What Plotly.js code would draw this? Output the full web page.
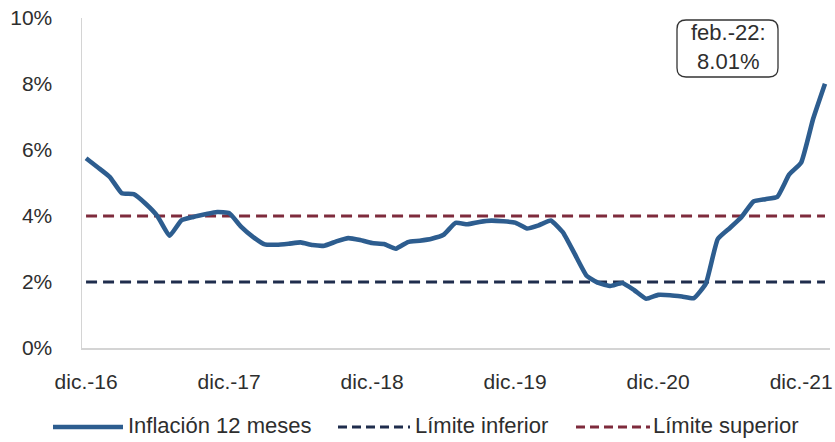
<!DOCTYPE html>
<html>
<head>
<meta charset="utf-8">
<script src="https://cdn.plot.ly/plotly-3.0.1.min.js"></script>
<style>html,body{margin:0;padding:0;background:#fff;}#chart{width:835px;height:442px;}</style>
</head>
<body>
<div id="chart"></div>
<script>
// Month labels (dic.-16 ... feb.-22)
var monthNames = ["ene.","feb.","mar.","abr.","may.","jun.","jul.","ago.","sep.","oct.","nov.","dic."];
var months = ["dic.-16"];
for (var y = 17; y <= 22; y++) {
  for (var m = 0; m < 12; m++) {
    if (y === 22 && m > 1) break;
    months.push(monthNames[m] + "-" + y);
  }
}
// 12-month inflation (%)
var inflacion = [
  5.75,
  5.47, 5.18, 4.69, 4.66, 4.37, 3.99, 3.40, 3.87, 3.97, 4.05, 4.12, 4.09,
  3.68, 3.37, 3.14, 3.13, 3.16, 3.20, 3.12, 3.10, 3.23, 3.33, 3.27, 3.18,
  3.15, 3.01, 3.21, 3.25, 3.31, 3.43, 3.79, 3.75, 3.82, 3.86, 3.84, 3.80,
  3.62, 3.72, 3.86, 3.51, 2.85, 2.19, 1.97, 1.88, 1.97, 1.75, 1.49, 1.61,
  1.60, 1.56, 1.51, 1.95, 3.30, 3.63, 3.97, 4.44, 4.51, 4.58, 5.26, 5.62,
  6.94, 8.01
];
var limInferiorValue = 2;
var limSuperiorValue = 4;
var limInferior = months.map(function(){ return limInferiorValue; });
var limSuperior = months.map(function(){ return limSuperiorValue; });
var tickLabels = ["dic.-16","dic.-17","dic.-18","dic.-19","dic.-20","dic.-21"];
var yTicks = [0, 2, 4, 6, 8, 10];
var seriesNames = ["Inflación 12 meses", "Límite inferior", "Límite superior"];
var lastLabel = "feb.-22:<br>8.01%";

var colBlue = "#2d5d8f", colNavy = "#1f2d4d", colRed = "#7e2b3c";
var textCol = "#2e2e2e";
var FONT = "Liberation Sans, Arial, sans-serif";

// layout geometry
var L = 82, R = 5, T = 18, B = 94, Wd = 835, Ht = 442;
var PW = Wd - L - R, PH = Ht - T - B;
function px(x){ return (x - L) / PW; }
function py(y){ return (Ht - B - y) / PH; }

var traces = [
  {x: months, y: limInferior, type: "scatter", mode: "lines", name: seriesNames[1],
   line: {color: colNavy, width: 3.2, dash: "11px,6px"}, hoverinfo: "skip", showlegend: false},
  {x: months, y: limSuperior, type: "scatter", mode: "lines", name: seriesNames[2],
   line: {color: colRed, width: 3.2, dash: "11px,6px"}, hoverinfo: "skip", showlegend: false},
  {x: months, y: inflacion, type: "scatter", mode: "lines", name: seriesNames[0],
   line: {color: colBlue, width: 4.6, shape: "spline", smoothing: 0.4}, showlegend: false}
];

// rounded box for the last-value callout
function roundRect(x0, y0, x1, y1, r) {
  var X0 = px(x0), X1 = px(x1), Y0 = py(y0), Y1 = py(y1);
  var rx = r / PW, ry = r / PH;
  return "M" + (X0 + rx) + "," + Y0 +
    " L" + (X1 - rx) + "," + Y0 + " Q" + X1 + "," + Y0 + " " + X1 + "," + (Y0 - ry) +
    " L" + X1 + "," + (Y1 + ry) + " Q" + X1 + "," + Y1 + " " + (X1 - rx) + "," + Y1 +
    " L" + (X0 + rx) + "," + Y1 + " Q" + X0 + "," + Y1 + " " + X0 + "," + (Y1 + ry) +
    " L" + X0 + "," + (Y0 - ry) + " Q" + X0 + "," + Y0 + " " + (X0 + rx) + "," + Y0 + " Z";
}

var legY = py(427);
var shapes = [
  {type: "path", xref: "paper", yref: "paper", path: roundRect(677, 20, 778, 77, 9),
   line: {color: "#333333", width: 1.3}, fillcolor: "rgba(255,255,255,0)"},
  {type: "line", xref: "paper", yref: "paper", x0: px(53), x1: px(123), y0: legY, y1: legY,
   line: {color: colBlue, width: 4.6}},
  {type: "line", xref: "paper", yref: "paper", x0: px(338), x1: px(410), y0: legY, y1: legY,
   line: {color: colNavy, width: 3, dash: "9px,5px"}},
  {type: "line", xref: "paper", yref: "paper", x0: px(576), x1: px(650), y0: legY, y1: legY,
   line: {color: colRed, width: 3, dash: "9px,5px"}}
];

var annotations = [
  {xref: "paper", yref: "paper", x: px(728), y: py(47), text: lastLabel, showarrow: false,
   xanchor: "center", yanchor: "middle", align: "center",
   font: {family: FONT, size: 22, color: textCol}},
  {xref: "paper", yref: "paper", x: px(126), y: py(425), text: seriesNames[0], showarrow: false,
   xanchor: "left", yanchor: "middle", font: {family: FONT, size: 22, color: textCol}},
  {xref: "paper", yref: "paper", x: px(413), y: py(425), text: seriesNames[1], showarrow: false,
   xanchor: "left", yanchor: "middle", font: {family: FONT, size: 22, color: textCol}},
  {xref: "paper", yref: "paper", x: px(651), y: py(425), text: seriesNames[2], showarrow: false,
   xanchor: "left", yanchor: "middle", font: {family: FONT, size: 22, color: textCol}}
];

var layout = {
  width: Wd, height: Ht,
  margin: {l: L, r: R, t: T, b: B, pad: 0},
  paper_bgcolor: "#ffffff", plot_bgcolor: "#ffffff",
  font: {family: FONT, size: 21, color: textCol},
  showlegend: false,
  xaxis: {
    type: "category",
    range: [-0.34, months.length - 1 + 0.42],
    tickvals: tickLabels, ticktext: tickLabels,
    showgrid: false, zeroline: false,
    showline: true, linecolor: "#d4d4d4", linewidth: 1.5,
    ticks: "", ticklabelstandoff: 14,
    tickfont: {family: FONT, size: 21, color: textCol},
    fixedrange: true
  },
  yaxis: {
    range: [0, 10],
    tickvals: yTicks,
    ticktext: yTicks.map(function(v){ return v + "%"; }),
    showgrid: false, zeroline: false,
    showline: true, linecolor: "#d4d4d4", linewidth: 1.5,
    ticks: "", ticklabelstandoff: 24,
    tickfont: {family: FONT, size: 21, color: textCol},
    fixedrange: true
  },
  shapes: shapes,
  annotations: annotations
};

Plotly.newPlot("chart", traces, layout, {displayModeBar: false, staticPlot: true});
</script>
</body>
</html>
